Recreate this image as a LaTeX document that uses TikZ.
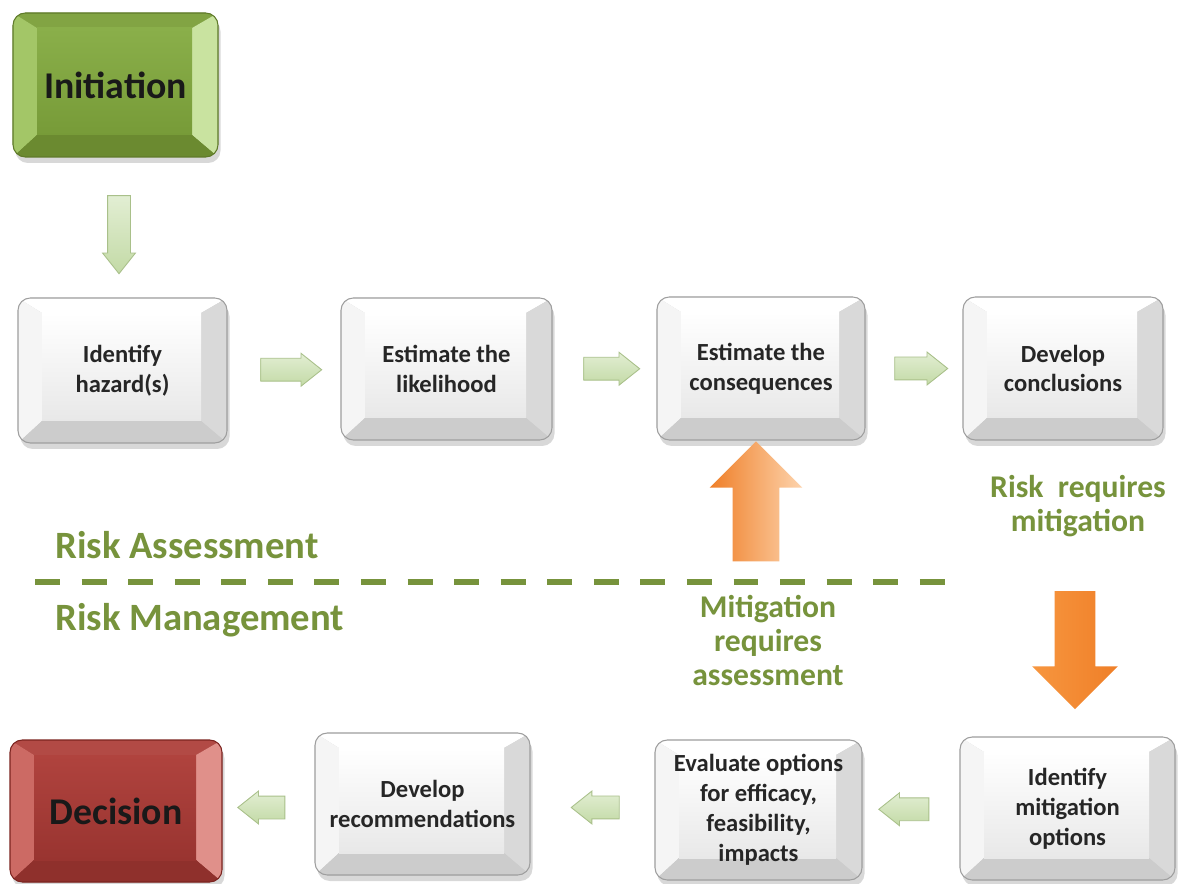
\documentclass[tikz,border=0pt]{standalone}
\usepackage{fontspec}
\setmainfont{Carlito}
\usetikzlibrary{shapes.arrows, shadows, calc, positioning}

\definecolor{txtgray}{HTML}{262626}
\definecolor{labelgreen}{HTML}{77933C}
\definecolor{arrowedge}{HTML}{A9C08A}
\definecolor{arrowlight}{HTML}{E2EED3}
\definecolor{arrowdark}{HTML}{C3DAA6}
\definecolor{orangedark}{HTML}{EF7F28}
\definecolor{orangemid}{HTML}{F7963F}
\definecolor{orangelight}{HTML}{FDD3AC}
% green key
\definecolor{gedge}{HTML}{5F7A2A}
\definecolor{gtop}{HTML}{82A443}
\definecolor{gleft}{HTML}{A3C667}
\definecolor{gright}{HTML}{C9E3A0}
\definecolor{gbottom}{HTML}{6B8A30}
\definecolor{gfacetop}{HTML}{8AAF4A}
\definecolor{gfacebot}{HTML}{779B38}
% red key
\definecolor{redge}{HTML}{7B2420}
\definecolor{rtop}{HTML}{B24A45}
\definecolor{rleft}{HTML}{CC6A64}
\definecolor{rright}{HTML}{E0908A}
\definecolor{rbottom}{HTML}{8F302C}
\definecolor{rfacetop}{HTML}{B0433E}
\definecolor{rfacebot}{HTML}{993430}

\tikzset{
  % bevelled key: border, top, left, right, bottom, face top, face bottom
  keybox/.style n args={7}{
    rounded corners=7pt, draw=#1, line width=0.6pt, fill=#5,
    minimum width=4.2cm, minimum height=2.85cm, align=center, inner sep=2pt,
    drop shadow={shadow xshift=0.5mm, shadow yshift=-1.2mm, opacity=0.3},
    path picture={
      \coordinate (bl) at (path picture bounding box.south west);
      \coordinate (tr) at (path picture bounding box.north east);
      \coordinate (br) at (bl -| tr);
      \coordinate (tl) at (bl |- tr);
      \coordinate (ibl) at ($(bl)+(0.48,0.44)$);
      \coordinate (itr) at ($(tr)+(-0.52,-0.3)$);
      \coordinate (ibr) at (ibl -| itr);
      \coordinate (itl) at (ibl |- itr);
      \fill[sharp corners, #2] (tl) -- (tr) -- (itr) -- (itl) -- cycle;
      \fill[sharp corners, #3] (tl) -- (itl) -- (ibl) -- (bl) -- cycle;
      \fill[sharp corners, #4] (tr) -- (br) -- (ibr) -- (itr) -- cycle;
      \fill[sharp corners, #5] (bl) -- (ibl) -- (ibr) -- (br) -- cycle;
      \fill[sharp corners, top color=#6, bottom color=#7] (itl) rectangle (ibr);
    }
  },
  graykey/.style={keybox={black!38}{white}{black!4}{black!15}{black!20}{white}{black!9},
    text=txtgray, font=\fontsize{14}{17}\selectfont\bfseries},
  greenkey/.style={keybox={gedge}{gtop}{gleft}{gright}{gbottom}{gfacetop}{gfacebot},
    text=black!90, font=\fontsize{21.5}{24}\selectfont\bfseries},
  redkey/.style={keybox={redge}{rtop}{rleft}{rright}{rbottom}{rfacetop}{rfacebot},
    text=black!90, font=\fontsize{21.5}{24}\selectfont\bfseries},
  flowarrow/.style={single arrow, draw=arrowedge, line width=0.5pt,
    top color=arrowlight, bottom color=arrowdark,
    inner xsep=0pt, inner ysep=0.22cm, minimum width=0.64cm,
    single arrow head extend=0.1cm, single arrow tip angle=77, minimum height=1.2cm},
  bigarrow/.style={single arrow, draw=none, inner xsep=0pt,
    single arrow tip angle=90},
  sidelabel/.style={text=labelgreen, font=\fontsize{22}{24}\selectfont\bfseries, inner sep=0pt},
  note/.style={text=labelgreen, font=\fontsize{18}{19.6}\selectfont\bfseries, align=center, inner sep=0pt},
  divider/.style={labelgreen, line width=3.4pt, dash pattern=on 14.2pt off 12.3pt}
}

\begin{document}
\begin{tikzpicture}
  % canvas
  \fill[white] (0,0) rectangle (23.56,-17.68);
  \useasboundingbox (0,0) rectangle (23.56,-17.68);

  % start
  \node[greenkey, minimum width=4.1cm, minimum height=2.88cm] (init) at (2.31,-1.70) {Initiation};

  % risk assessment row
  \node[graykey, minimum width=4.18cm, minimum height=2.9cm] (hazard) at (2.45,-7.41) {Identify\\hazard(s)};
  \node[graykey, minimum width=4.22cm, minimum height=2.84cm] (likely) at (8.93,-7.38) {Estimate the\\likelihood};
  \node[graykey, minimum width=4.16cm, minimum height=2.86cm] (conseq) at (15.22,-7.37) {Estimate the\\consequences};
  \node[graykey, minimum width=4.0cm, minimum height=2.86cm] (concl) at (21.26,-7.37) {Develop\\conclusions};

  % risk management row
  \node[redkey, minimum width=4.24cm, minimum height=2.84cm] (decide) at (2.32,-16.22) {Decision};
  \node[graykey, minimum width=4.3cm, minimum height=2.84cm] (recomm) at (8.45,-16.08) {Develop\\recommendations};
  \node[graykey, minimum width=4.14cm, minimum height=2.8cm] (evalopt) at (15.17,-16.20) {Evaluate options\\for efficacy,\\feasibility,\\impacts};
  \node[graykey, minimum width=4.3cm, minimum height=2.86cm] (mitopt) at (21.35,-16.17) {Identify\\mitigation\\options};

  % flow arrows
  \node[flowarrow, rotate=-90, minimum height=1.56cm] (f0) at ($(init.south)!0.5!(hazard.north)$) {};
  \node[flowarrow, minimum height=1.22cm] (f1) at ($(hazard.east)!0.5!(likely.west)$) {};
  \node[flowarrow, minimum height=1.12cm] (f2) at ($(likely.east)!0.5!(conseq.west)$) {};
  \node[flowarrow, minimum height=1.06cm] (f3) at ($(conseq.east)!0.5!(concl.west)$) {};
  \node[flowarrow, rotate=180, minimum height=1.0cm] (f4) at ($(mitopt.west)!0.5!(evalopt.east)$) {};
  \node[flowarrow, rotate=180, minimum height=0.96cm] (f5) at ($(evalopt.west)!0.42!(recomm.east)$) {};
  \node[flowarrow, rotate=180, minimum height=0.94cm] (f6) at ($(recomm.west)!0.5!(decide.east)$) {};

  % split between assessment and management
  \node[sidelabel, anchor=west] (assess) at (1.1,-10.9) {Risk Assessment};
  \node[sidelabel, anchor=west] (manage) at (1.1,-12.4) {Risk Management};
  \draw[divider] (0.7,-11.64) -- (18.96,-11.64);

  % loops
  \node[bigarrow, rotate=90, minimum height=2.4cm, inner ysep=0.46cm, minimum width=1.84cm,
    single arrow head extend=0.46cm, left color=orangedark, middle color=orangemid,
    right color=orangelight] (up) at (15.12,-10.26) {};
  \node[note] (needass) at (15.36,-12.81) {Mitigation\\requires\\assessment};
  \node[note] (needmit) at (21.56,-10.12) {Risk\ \ requires\\mitigation};
  \node[bigarrow, rotate=-90, minimum height=2.36cm, inner ysep=0.4cm, minimum width=1.7cm,
    single arrow head extend=0.45cm, left color=orangemid, middle color=orangelight,
    right color=orangedark] (down) at (21.5,-12.8) {};
\end{tikzpicture}
\end{document}
